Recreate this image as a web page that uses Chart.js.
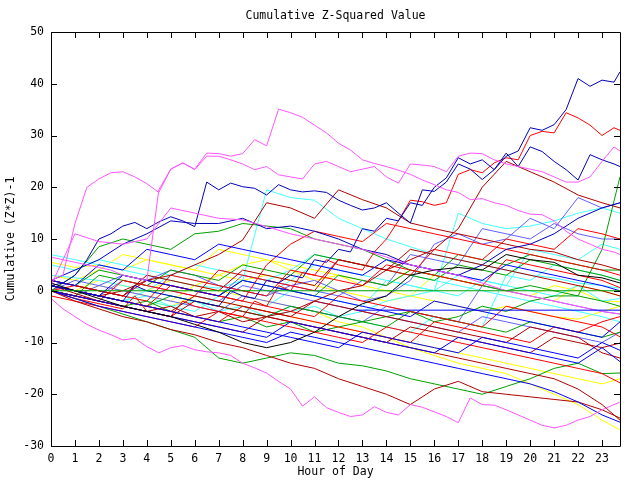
<!DOCTYPE html>
<html>
<head>
<meta charset="utf-8">
<script src="https://cdn.jsdelivr.net/npm/chart.js@4"></script>
<style>
    html, body { margin: 0; padding: 0; background: #fff; }
    canvas { display: block; }
</style>
</head>
<body>
<canvas id="myChart" width="640" height="480"></canvas>
<script>
// hour of day samples, 0 .. 23 and the last quarter hour
const hours = [0, 1, 2, 3, 4, 5, 6, 7, 8, 9, 10, 11, 12, 13, 14, 15, 16, 17, 18, 19, 20, 21, 22, 23, 23.75];
// finer samples for the lines that stand out
const halfHours = [0, 0.5, 1, 1.5, 2, 2.5, 3, 3.5, 4, 4.5, 5, 5.5, 6, 6.5, 7, 7.5, 8, 8.5, 9, 9.5, 10, 10.5, 11, 11.5,
    12, 12.5, 13, 13.5, 14, 14.5, 15, 15.5, 16, 16.5, 17, 17.5, 18, 18.5, 19, 19.5, 20, 20.5, 21, 21.5, 22, 22.5, 23, 23.5, 23.75];
const xTicks = [0, 1, 2, 3, 4, 5, 6, 7, 8, 9, 10, 11, 12, 13, 14, 15, 16, 17, 18, 19, 20, 21, 22, 23];
const yTicks = [-30, -20, -10, 0, 10, 20, 30, 40, 50];

// reference lines
const zeroLineHours = [0, 23.75];
const zeroLineValues = [0, 0];
const meanLineHours = [12.75, 23.75];
const meanLineValues = [-3.75, -3.75];

// cumulative (z*z)-1, half hour series
const magA = [2, 3, 13, 20, 21.6, 22.8, 23, 22, 20.7, 19, 23.5, 24.7, 23.5, 26.6, 26.5, 26, 26.5, 29.2, 28, 35.1, 34.4, 33.5, 32, 30.5,
    28.5, 27.2, 25.3, 24.6, 24, 23.3, 22.5, 21.4, 20.5, 19.5, 19, 17.6, 17.8, 17, 16.5, 15.5, 14.8, 14.7, 13.5, 11.5, 10, 9, 8, 7.5, 7];
const magB = [6.5, 6, 5.5, 5, 4.5, 4, 3, 2.5, 2, 19.5, 23.5, 24.7, 23.4, 26, 26, 25.3, 24.5, 23.4, 24, 22.4, 22, 21.6, 24.5, 25,
    24, 23, 23.5, 24, 22, 20.8, 24.5, 24.3, 24, 23, 26, 26.6, 26.5, 25.3, 24.5, 24, 23.5, 23, 22, 21, 21, 22, 25, 27.8, 27];
const magD = [-1.5, -3.5, -5, -6.5, -7.6, -8.5, -9.5, -9.2, -10.8, -12, -11, -10.6, -11.4, -11.8, -12, -12.5, -14, -14.9, -15.9, -17.5, -19, -22.3, -20.5, -22.6,
    -23.5, -24.3, -24, -22.4, -23.5, -24, -22, -22.5, -23.4, -24.3, -25.5, -20.7, -22, -22.1, -23, -24, -25, -26, -26.5, -26, -25, -24.3, -23, -22, -21.5];
const dblueG = [1, 1.5, 3, 6, 10, 11, 12.5, 13.2, 12, 13.3, 14.3, 13.5, 12.4, 21, 19.5, 20.8, 20.1, 19.8, 18.5, 20.5, 19.5, 19.1, 19.3, 19,
    17.5, 16.5, 15.6, 16, 17, 15, 13.1, 19.5, 19.2, 21, 24.5, 23.5, 21.5, 23.4, 26, 27, 31.5, 31, 32.1, 35, 41, 39.5, 40.7, 40.3, 42.3];
const redR1 = [0, -0.8, -1.5, -2, -2.5, -3, -3.5, -1, -4, -4.5, -5, -2, -3, -3.5, -4, -4.5, -5, -2, -3, 1, 0, 3.5, 3, 6,
    5, 4.5, 4, 7.5, 10, 13.5, 17.5, 17.2, 16.5, 17, 22.5, 23.4, 22.8, 24.7, 25.7, 25.3, 30, 30.8, 30.5, 34.4, 33.4, 32, 30, 31.5, 31];
const dblueH = [1, 0.5, 0, -0.5, -1, -1.5, -2, 1, 0, -0.5, -1, -1.5, -2, -2.5, -3, 0, -1, -1.5, 2, 1.5, 3, 2.5, 6, 5.5,
    8, 7.5, 12, 11.5, 14, 13.5, 17, 16.5, 20, 21.8, 25.7, 24.5, 25.3, 23.4, 26.6, 24, 27.8, 26.9, 25, 23.4, 21.4, 26.3, 25.3, 24.5, 24];

// cumulative (z*z)-1, hourly series
const magC = [1, 11, 9.5, 9, 10, 16, 15, 14, 13.7, 12.4, 11, 10, 9, 8, 6.5, 5, 4, 3, 1.5, 0, -1, -2, -3, -4, -4.5];
const dblueI = [2, 4, 6, 9, 11, 13.5, 13, 13, 14, 12, 12.5, 11.5, 10, 8, 7, 5, 4, 3, 5, 8, 9, 11, 14, 16, 17];
const greenEnd = [0, -1, -2, -3, -2, -4, -5, -6, -5, -7, -6, -8, -7, -6, -5, -4, -6, -5, -3, -4, -2, -1, -1, 8, 22];
const greenA = [0, 3, 8.5, 10, 9, 8, 11, 11.5, 13, 12.5, 12, 10, 9, 8, 6, 4, 3, 2, 1, 0, 1, 0, -1, -2, -3];
const cyanA = [7, 6, 5, 4, 3, 2, 1, 0.5, 2, 19.5, 18, 17.5, 14, 12, 10, 8.5, 7, 6, 5, 4, 3, 2.5, 1.5, 1, 0.5];
const cyanB = [1, 0, -1, -2, -1, -3, -2, -4, -3, -5, -4, -3, -5, -4, -2, -1, 0, 15, 13, 12, 12.5, 13.5, 15, 16, 15];
const dredK = [1, 0, -1, 0, 2, 3, 5, 7, 9.8, 17, 16, 14, 19.5, 17.6, 16, 13.1, 12, 11, 10, 9, 8, 7.5, 6, 5, 4];
const dredL = [0, -1, -2, -3, -4, -3, -5, -4, -6, -5, -4, -2, 0, 1, 4, 6, 8, 12, 20, 25, 23, 21, 18.5, 17, 16];
const lblueJ = [0, 2, 1, 3, 2, 4, 3, 1, 0, -1, 1, 2, 0, -2, -1, 2, 9, 11, 9, 10, 14, 12, 18, 16, 17];
const red2 = [1, 0, -1, -2, -3, 1, 0, -1, -2, -3, -4, -5, -1, -2, -3, -4, -5, -6, -7, -3, -4, -5, -6, -7, -8.9];
const red3 = [2, 1, 0, -1, 2, 1, 0, -1, -2, 5, 9, 11.5, 10.5, 9.5, 13, 12, 11, 10, 9, 8, 7, 6, 5, 4, 3];
const red4 = [-1, -2, -3, -4, -5, -6, -7, -4, -5, -6, -7, -8, -9, -10, -7, -8, -9, -10, -11, -12, -13, -14, -15, -16, -17.8];
const red5 = [0, 1, 0, -1, -2, 3, 2, 1, 0, -1, 4, 3, 2, 1, 5, 4, 3, 2, 1, 6, 5, 4, 3, 2, 0.6];
const red6 = [1, 0, -1, -2, -3, -4, -5, -6, -3, -4, -5, -6, -7, -8, -9, -10, -6, -7, -8, -9, -10, -7, -8, -6, -5];
const red7 = [0, -1, -2, 2, 1, 0, -1, 4, 3, 2, 1, 0, 6, 5, 4, 3, 8, 7, 6, 10, 9, 8, 12, 11, 10];
const dred3 = [0, -2, -3.5, -5, -6, -7.5, -8.5, -10, -11, -12.5, -14, -15, -17, -18.5, -20, -22, -19, -17.5, -19.5, -20, -20.5, -21, -21.5, -23, -24.6];
const dred4 = [1, -0.5, -2, -3, -4, -5, -6, -7, -8, -5, -6, -7, -8, -9, -10, -11, -12, -13, -14, -15, -16, -17, -19, -22, -25];
const dred5 = [2, 1, 0, -1, 3, 2, 1, 0, 4, 3, 2, 1, 6, 5, 4, 8, 7, 6, 5, 4, 3, 2, 1, 0, -1];
const dred6 = [0, -1, -2, -3, -4, -5, -2, -3, -4, -5, -6, -7, -8, -9, -10, -7, -8, -9, -10, -11, -12, -9, -10, -11, -10.1];
const dred7 = [1, 0, -1, -2, -3, -4, -1, -2, -3, -4, -5, -2, -3, -4, -5, -6, -7, -8, -9, -10, -7, -8, -9, -12, -13];
const blue2 = [0, -1.5, -3, -4, -5, -6, -7, -8, -9, -10, -8, -9, -10, -11, -12, -13, -14, -15, -16, -17, -18, -19.5, -21.5, -24, -25.4];
const blue3 = [1, 0, -1, 3, 2, 1, 0, -1, 2, 1, 0, -1, -2, -3, -4, -5, -2, -3, -4, -5, -6, -7, -8, -9, -6];
const blue4 = [0, -1, -2, -3, -4, -5, -6, -7, -8, -9, -6, -7, -8, -9, -10, -11, -12, -9, -10, -11, -12, -13, -14, -11, -13.7];
const blue5 = [2, 1, 5, 4, 8, 7, 6, 9, 8, 7, 6, 5, 4, 3, 6, 5, 4, 3, 2, 5, 4, 3, 2, 1, 0];
const blue6 = [1, 0, -1, -2, -3, -4, -5, -6, -7, -8, -9, -10, -11, -8, -9, -10, -11, -12, -9, -10, -11, -12, -13, -10, -11.5];
const lblue2 = [0, -1, 1, 0, -1, -2, -3, -4, -1, -2, -3, -4, -5, -6, -3, -4, -5, -6, 1, 0, -1, -2, -3, -4, -4.5];
const lblue3 = [1, 0, -1, 2, 1, 0, -1, -2, 1, 0, -1, -2, -3, -4, -5, -6, -7, -8, -5, -6, -7, -8, -9, -10, -8];
const lblue4 = [2, 1, 0, -1, 2, 1, 0, -1, 3, 2, 1, 0, -1, 2, 1, 7, 6, 5, 12, 11, 10, 13, 11, 10, 10];
const green3 = [0, -1.5, -3, -4.5, -6, -7.5, -9, -13, -14, -13, -12, -12.5, -14, -14.5, -15.5, -17, -18, -19, -20, -18.5, -17, -15, -14, -16, -15.9];
const green4 = [1, 0, -1, -2, -3, -1, -2, -3, -4, -5, -3, -4, -5, -6, -7, -4, -5, -6, -7, -8, -6, -7, -8, -9, -8];
const green5 = [0, -1, 3, 2, 1, 4, 3, 2, 5, 4, 3, 7, 6, 5, 4, 3, 2, 5, 4, 3, 6, 5, 4, 3, 2];
const green6 = [2, 1, 4, 3, 2, 1, 0, -1, 2, 1, 0, -1, 3, 2, 1, 4, 3, 7, 6, 5, 7, 6, 5, 4, 4];
const cyan3 = [3, 2.5, 2, 1, 0, 3, 2, 1, 0, -1, 2, 5, 4, 3, 2, 1, 0, -1, 2, 1, 0, -1, 1, -2, -1.5];
const cyan4 = [5, 4, 6, 5, 4, 3, 5, 4, 3, 2, 4, 7, 6, 5, 4, 3, 2, 1, 0, -1, -2, -3, -4, -5, -6];
const cyan5 = [1, 0, -1, -2, 0, -1, -2, -3, -4, -5, -3, -4, -5, -6, -7, -8, -5, -6, -7, 3, 2, 5, 4, 3, 2];
const cyan6 = [2, 1, 0, -1, -2, -3, -4, -1, -2, -3, 0, -1, -2, -3, 2, 1, 0, 3, 2, 1, 8, 7, 6, 9, 8];
const yellow1 = [5.5, 4.5, 5, 4, 6, 5, 4, 3, 2, 3, 2, 1, 0, -1, -2, -1, -2, -3, -4, -3, -4, -5, -5.5, -4, -3];
const yellow2 = [0, -1, 1, 0, -1, -2, 1, 0, -1, -2, -3, -4, -6, -7, -9, -11, -12.5, -14, -15, -16, -18, -20, -22, -25, -26.9];
const yellow3 = [1, 0, 2, 1, 0, 2, 1, 3, 5, 6, 4, 2, 3, 1, 0, -1, 3, 2, 1, 0, -1, 1, 0, -2, -2.1];
const yellow4 = [2, 1, 0, -1, -2, -3, -1, -2, -3, -4, -5, -6, -7, -8, -9, -10, -11, -12, -13, -14, -15, -16, -17, -18, -17];
const yellow5 = [3, 2, 4, 7, 6, 5, 4, 8, 7, 6, 5, 4, 3, 2, 1, 4, 3, 2, 1, 0, -1, -2, 1, 0, -1];
const black1 = [1.5, 0, -1.5, -3, -4, -5, -6.5, -8, -10, -11, -10, -8, -5, -2.5, -1, 3, 4, 4.5, 4, 7, 6, 5.5, 3, 2.5, 1.5];

const RED = '#ff0000';
const DKRED = '#b00000';
const BLUE = '#0000ff';
const DKBLUE = '#0000b8';
const LTBLUE = '#6060ff';
const GREEN = '#00a000';
const MAGENTA = '#ff55ff';
const CYAN = '#44ffff';
const YELLOW = '#ffff00';
const BLACK = '#000000';

const FONT = '"DejaVu Sans Mono", "Liberation Mono", monospace';

// drawn bottom to top
const series = [
    [hours, yellow1, YELLOW], [hours, yellow2, YELLOW], [hours, yellow3, YELLOW], [hours, yellow4, YELLOW], [hours, yellow5, YELLOW],
    [hours, cyan3, CYAN], [hours, cyan4, CYAN], [hours, cyan5, CYAN], [hours, cyan6, CYAN], [hours, cyanA, CYAN], [hours, cyanB, CYAN],
    [hours, lblue2, LTBLUE], [hours, lblue3, LTBLUE], [hours, lblue4, LTBLUE], [hours, lblueJ, LTBLUE],
    [hours, green3, GREEN], [hours, green4, GREEN], [hours, green5, GREEN], [hours, green6, GREEN], [hours, greenA, GREEN], [hours, greenEnd, GREEN],
    [hours, red2, RED], [hours, red3, RED], [hours, red4, RED], [hours, red5, RED], [hours, red6, RED], [hours, red7, RED], [halfHours, redR1, RED],
    [hours, dred3, DKRED], [hours, dred4, DKRED], [hours, dred5, DKRED], [hours, dred6, DKRED], [hours, dred7, DKRED], [hours, dredK, DKRED], [hours, dredL, DKRED],
    [hours, blue2, BLUE], [hours, blue3, BLUE], [hours, blue4, BLUE], [hours, blue5, BLUE], [hours, blue6, BLUE],
    [halfHours, dblueG, DKBLUE], [halfHours, dblueH, DKBLUE], [hours, dblueI, DKBLUE],
    [hours, black1, BLACK],
    [halfHours, magA, MAGENTA], [halfHours, magB, MAGENTA], [hours, magC, MAGENTA], [halfHours, magD, MAGENTA],
];

function toPoints(xs, ys) {
    return xs.map((x, i) => ({ x: x, y: ys[i] }));
}

function lineDataset(points, color) {
    return {
        data: points,
        borderColor: color,
        borderWidth: 1,
        pointRadius: 0,
        fill: false,
        tension: 0,
    };
}

let datasets = [];
// chart.js paints dataset 0 last, so the reference lines go first
datasets.push(lineDataset(toPoints(zeroLineHours, zeroLineValues), GREEN));
datasets.push(lineDataset(toPoints(meanLineHours, meanLineValues), BLUE));
for (let i = series.length - 1; i >= 0; i--) {
    datasets.push(lineDataset(toPoints(series[i][0], series[i][1]), series[i][2]));
}

// frame plus inward tick marks on all four sides
const frameTicks = {
    id: 'frameTicks',
    afterDatasetsDraw(chart) {
        const ctx = chart.ctx;
        const area = chart.chartArea;
        const xs = chart.scales.x;
        const ys = chart.scales.y;
        const len = 6;
        ctx.save();
        ctx.strokeStyle = '#000';
        ctx.lineWidth = 1;
        ctx.beginPath();
        ctx.rect(Math.round(area.left) + 0.5, Math.round(area.top) + 0.5,
            Math.round(area.right - area.left), Math.round(area.bottom - area.top));
        xTicks.forEach((t) => {
            const px = Math.round(xs.getPixelForValue(t)) + 0.5;
            ctx.moveTo(px, area.bottom);
            ctx.lineTo(px, area.bottom - len);
            ctx.moveTo(px, area.top);
            ctx.lineTo(px, area.top + len);
        });
        yTicks.forEach((t) => {
            const py = Math.round(ys.getPixelForValue(t)) + 0.5;
            ctx.moveTo(area.left, py);
            ctx.lineTo(area.left + len, py);
            ctx.moveTo(area.right, py);
            ctx.lineTo(area.right - len, py);
        });
        ctx.stroke();
        ctx.restore();
    }
};

new Chart(document.getElementById('myChart'), {
    type: 'line',
    data: { datasets: datasets },
    plugins: [frameTicks],
    options: {
        responsive: false,
        animation: false,
        events: [],
        layout: { padding: { top: 0, right: 20, bottom: 0, left: 0 } },
        plugins: {
            legend: { display: false },
            tooltip: { enabled: false },
            title: {
                display: true,
                text: 'Cumulative Z-Squared Value',
                color: '#000',
                fullSize: false,
                font: { family: FONT, size: 11.5, weight: 'normal', lineHeight: 1.2 },
                padding: { top: 9, bottom: 9.2 },
            },
        },
        scales: {
            x: {
                type: 'linear',
                min: 0,
                max: 23.75,
                afterFit: (scale) => { scale.height = 34; },
                afterBuildTicks: (scale) => { scale.ticks = xTicks.map((v) => ({ value: v })); },
                grid: { display: false, drawTicks: false },
                border: { display: false },
                ticks: {
                    autoSkip: false,
                    maxRotation: 0,
                    padding: 6,
                    color: '#000',
                    font: { family: FONT, size: 11.5 },
                },
                title: {
                    display: true,
                    text: 'Hour of Day',
                    color: '#000',
                    font: { family: FONT, size: 11.5, lineHeight: 1.2 },
                    padding: { top: 0, bottom: 1 },
                },
            },
            y: {
                type: 'linear',
                min: -30,
                max: 50,
                afterFit: (scale) => { scale.width = 51; },
                afterBuildTicks: (scale) => { scale.ticks = yTicks.map((v) => ({ value: v })); },
                grid: { display: false, drawTicks: false },
                border: { display: false },
                ticks: {
                    padding: 7,
                    color: '#000',
                    font: { family: FONT, size: 11.5 },
                },
                title: {
                    display: true,
                    text: 'Cumulative (Z*Z)-1',
                    color: '#000',
                    font: { family: FONT, size: 11.5, lineHeight: 1.2 },
                    padding: { top: 4, bottom: 0 },
                },
            },
        },
    },
});
</script>
</body>
</html>
